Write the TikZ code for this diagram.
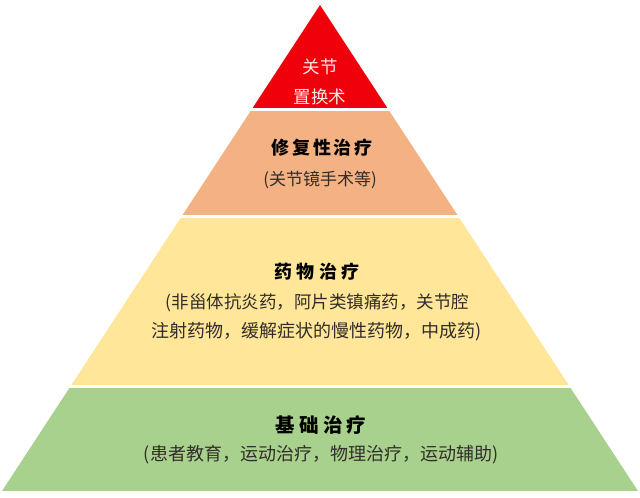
\documentclass[tikz,border=0pt]{standalone}
\usepackage{fontspec}
\newfontfamily\cjk{Noto Sans CJK SC}
\definecolor{lred}{RGB}{240,0,10}
\definecolor{lorange}{RGB}{244,177,131}
\definecolor{lyellow}{RGB}{255,230,153}
\definecolor{lgreen}{RGB}{169,209,142}
\definecolor{txt}{RGB}{50,45,40}
\definecolor{redtxt}{RGB}{255,228,228}
\tikzset{
  ttl/.style={text=black, inner sep=0pt},
  sub/.style={text=txt, inner sep=0pt},
  toptxt/.style={font=\cjk\fontsize{17.5}{19}\selectfont, text=redtxt, inner sep=0pt},
}
\begin{document}
\begin{tikzpicture}[x=1pt,y=-1pt]
\useasboundingbox (0,0) rectangle (640,498);
\fill[white] (0,0) rectangle (640,498);
\begin{scope}
  \clip (320,5) -- (2,491) -- (638,491) -- cycle;
  \fill[lred] (0,0) rectangle (640,108);
  \fill[lorange] (0,111) rectangle (640,215);
  \fill[lyellow] (0,218) rectangle (640,385);
  \fill[lgreen] (0,388) rectangle (640,491);
\end{scope}
\node[toptxt] (r1) at (320,67) {关节};
\node[toptxt] (r2) at (320,97) {置换术};
\node[ttl, font=\cjk\bfseries\fontsize{18}{20}\selectfont\addfontfeature{LetterSpace=15}] (o1) at (322,148) {修复性治疗};
\node[sub, font=\cjk\fontsize{17}{19}\selectfont] (o2) at (320,180) {(关节镜手术等)};
\node[ttl, font=\cjk\bfseries\fontsize{18}{20}\selectfont\addfontfeature{LetterSpace=24}] (y1) at (317,272) {药物治疗};
\node[sub, font=\cjk\fontsize{17.5}{19}\selectfont] (y2) at (317.5,303) {(非甾体抗炎药，阿片类镇痛药，关节腔};
\node[sub, font=\cjk\fontsize{18}{20}\selectfont] (y3) at (316.5,332) {注射药物，缓解症状的慢性药物，中成药)};
\node[ttl, font=\cjk\bfseries\fontsize{19.5}{21}\selectfont\addfontfeature{LetterSpace=22}] (g1) at (321,425) {基础治疗};
\node[sub, font=\cjk\fontsize{18}{20}\selectfont] (g2) at (321,455) {(患者教育，运动治疗，物理治疗，运动辅助)};
\end{tikzpicture}
\end{document}
